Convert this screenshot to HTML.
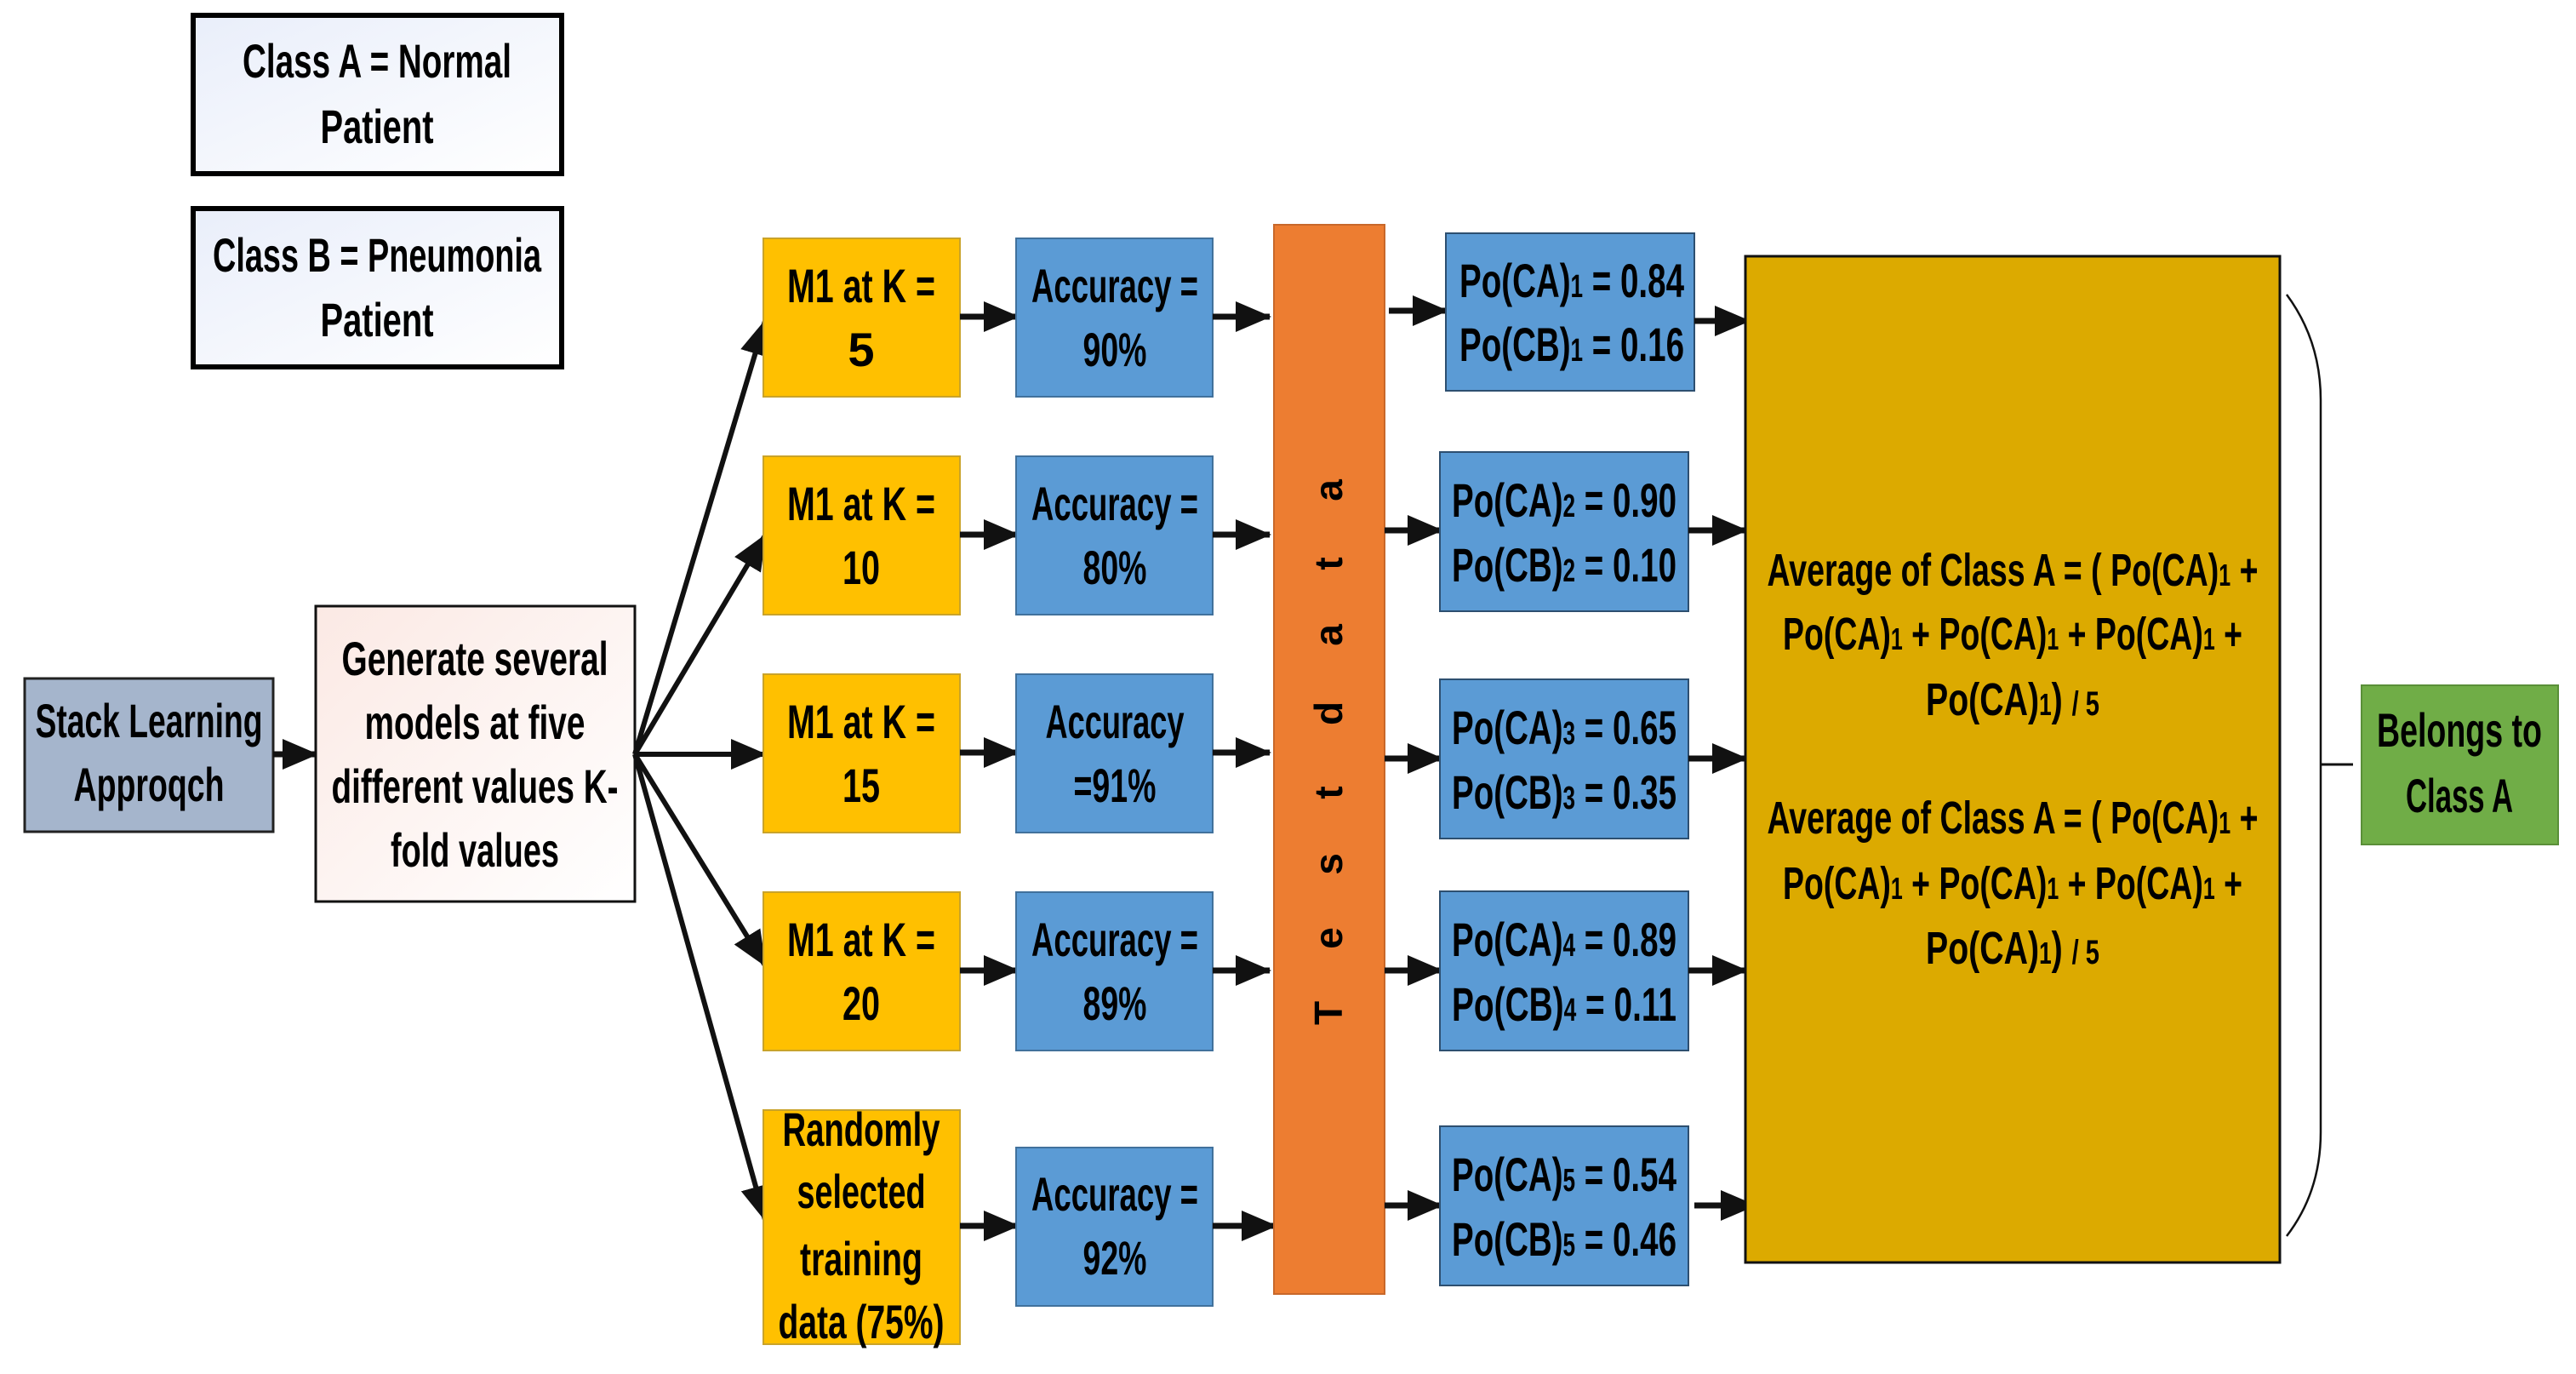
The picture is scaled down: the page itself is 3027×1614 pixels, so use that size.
<!DOCTYPE html>
<html><head><meta charset="utf-8"><style>
html,body{margin:0;padding:0;background:#fff}
svg{display:block}
text{font-family:"Liberation Sans",sans-serif;font-weight:bold;fill:#000}
</style></head><body>
<svg width="3027" height="1614" viewBox="0 0 3027 1614" xmlns="http://www.w3.org/2000/svg">
<defs>
<marker id="ah" markerUnits="userSpaceOnUse" markerWidth="44" markerHeight="36" refX="40" refY="18" orient="auto">
<path d="M0,0 L42,18 L0,36 Z" fill="#111"/>
</marker>
<linearGradient id="gcl" x1="0" y1="0" x2="1" y2="1"><stop offset="0" stop-color="#e9eefa"/><stop offset="1" stop-color="#ffffff"/></linearGradient>
<linearGradient id="ggen" x1="0" y1="0" x2="1" y2="1"><stop offset="0" stop-color="#fbe9e4"/><stop offset="1" stop-color="#ffffff"/></linearGradient>
</defs>

<!-- Legend boxes -->
<rect x="227" y="18" width="433" height="186" fill="url(#gcl)" stroke="#000" stroke-width="6"/>
<text x="443" y="91" font-size="56" text-anchor="middle" textLength="316" lengthAdjust="spacingAndGlyphs">Class A  = Normal</text>
<text x="443" y="168" font-size="56" text-anchor="middle" textLength="133" lengthAdjust="spacingAndGlyphs">Patient</text>
<rect x="227" y="245" width="433" height="186" fill="url(#gcl)" stroke="#000" stroke-width="6"/>
<text x="443" y="319" font-size="56" text-anchor="middle" textLength="386" lengthAdjust="spacingAndGlyphs">Class B  = Pneumonia</text>
<text x="443" y="395" font-size="56" text-anchor="middle" textLength="133" lengthAdjust="spacingAndGlyphs">Patient</text>

<!-- Stack -->
<rect x="29" y="797" width="292" height="180" fill="#a5b5cc" stroke="#222" stroke-width="3"/>
<text x="175" y="866" font-size="56" text-anchor="middle" textLength="267" lengthAdjust="spacingAndGlyphs">Stack Learning</text>
<text x="175" y="941" font-size="56" text-anchor="middle" textLength="177" lengthAdjust="spacingAndGlyphs">Approqch</text>
<line x1="321" y1="886" x2="372" y2="886" stroke="#111" stroke-width="7" marker-end="url(#ah)"/>

<!-- Generate -->
<rect x="371" y="712" width="375" height="347" fill="url(#ggen)" stroke="#111" stroke-width="3"/>
<text x="558" y="793" font-size="56" text-anchor="middle" textLength="313" lengthAdjust="spacingAndGlyphs">Generate several</text>
<text x="558" y="868" font-size="56" text-anchor="middle" textLength="259" lengthAdjust="spacingAndGlyphs">models at five</text>
<text x="558" y="943" font-size="56" text-anchor="middle" textLength="337" lengthAdjust="spacingAndGlyphs">different values K-</text>
<text x="558" y="1018" font-size="56" text-anchor="middle" textLength="198" lengthAdjust="spacingAndGlyphs">fold values</text>

<!-- Fan -->
<g stroke="#111" stroke-width="6" marker-end="url(#ah)">
<line x1="746" y1="886" x2="899" y2="377"/>
<line x1="746" y1="886" x2="899" y2="629"/>
<line x1="746" y1="886" x2="899" y2="886"/>
<line x1="746" y1="886" x2="899" y2="1134"/>
<line x1="746" y1="886" x2="899" y2="1433"/>
</g>

<!-- M1 boxes -->
<g fill="#ffc000" stroke="#c9a32a" stroke-width="2">
<rect x="897" y="280" width="231" height="186"/>
<rect x="897" y="536" width="231" height="186"/>
<rect x="897" y="792" width="231" height="186"/>
<rect x="897" y="1048" width="231" height="186"/>
<rect x="897" y="1304" width="231" height="275"/>
</g>
<g font-size="56" text-anchor="middle">
<text x="1012" y="355" textLength="174" lengthAdjust="spacingAndGlyphs">M1 at K =</text>
<text x="1012" y="430">5</text>
<text x="1012" y="611" textLength="174" lengthAdjust="spacingAndGlyphs">M1 at K =</text>
<text x="1012" y="686" textLength="44" lengthAdjust="spacingAndGlyphs">10</text>
<text x="1012" y="867" textLength="174" lengthAdjust="spacingAndGlyphs">M1 at K =</text>
<text x="1012" y="942" textLength="44" lengthAdjust="spacingAndGlyphs">15</text>
<text x="1012" y="1123" textLength="174" lengthAdjust="spacingAndGlyphs">M1 at K =</text>
<text x="1012" y="1198" textLength="44" lengthAdjust="spacingAndGlyphs">20</text>
<text x="1012" y="1346" textLength="185" lengthAdjust="spacingAndGlyphs">Randomly</text>
<text x="1012" y="1419" textLength="151" lengthAdjust="spacingAndGlyphs">selected</text>
<text x="1012" y="1498" textLength="144" lengthAdjust="spacingAndGlyphs">training</text>
<text x="1012" y="1572" textLength="195" lengthAdjust="spacingAndGlyphs">data (75%)</text>
</g>

<!-- M1 -> Acc arrows -->
<g stroke="#111" stroke-width="7" marker-end="url(#ah)">
<line x1="1128" y1="372" x2="1196" y2="372"/>
<line x1="1128" y1="628" x2="1196" y2="628"/>
<line x1="1128" y1="884" x2="1196" y2="884"/>
<line x1="1128" y1="1140" x2="1196" y2="1140"/>
<line x1="1128" y1="1440" x2="1196" y2="1440"/>
</g>

<!-- Accuracy boxes -->
<g fill="#5b9bd5" stroke="#41719c" stroke-width="2">
<rect x="1194" y="280" width="231" height="186"/>
<rect x="1194" y="536" width="231" height="186"/>
<rect x="1194" y="792" width="231" height="186"/>
<rect x="1194" y="1048" width="231" height="186"/>
<rect x="1194" y="1348" width="231" height="186"/>
</g>
<g font-size="56" text-anchor="middle">
<text x="1310" y="355" textLength="196" lengthAdjust="spacingAndGlyphs">Accuracy =</text>
<text x="1310" y="430" textLength="75" lengthAdjust="spacingAndGlyphs">90%</text>
<text x="1310" y="611" textLength="196" lengthAdjust="spacingAndGlyphs">Accuracy =</text>
<text x="1310" y="686" textLength="75" lengthAdjust="spacingAndGlyphs">80%</text>
<text x="1310" y="867" textLength="163" lengthAdjust="spacingAndGlyphs">Accuracy</text>
<text x="1310" y="942" textLength="97" lengthAdjust="spacingAndGlyphs">=91%</text>
<text x="1310" y="1123" textLength="196" lengthAdjust="spacingAndGlyphs">Accuracy =</text>
<text x="1310" y="1198" textLength="75" lengthAdjust="spacingAndGlyphs">89%</text>
<text x="1310" y="1422" textLength="196" lengthAdjust="spacingAndGlyphs">Accuracy =</text>
<text x="1310" y="1497" textLength="75" lengthAdjust="spacingAndGlyphs">92%</text>
</g>

<!-- Acc -> Test arrows -->
<g stroke="#111" stroke-width="7" marker-end="url(#ah)">
<line x1="1425" y1="372" x2="1492" y2="372"/>
<line x1="1425" y1="628" x2="1492" y2="628"/>
<line x1="1425" y1="884" x2="1492" y2="884"/>
<line x1="1425" y1="1140" x2="1492" y2="1140"/>
<line x1="1425" y1="1440" x2="1499" y2="1440"/>
</g>

<!-- Test data -->
<rect x="1497" y="264" width="130" height="1256" fill="#ed7d31" stroke="#c8682a" stroke-width="2"/>
<g font-size="46" text-anchor="middle">
<text transform="translate(1577,576) rotate(-90)">a</text>
<text transform="translate(1577,662) rotate(-90)">t</text>
<text transform="translate(1577,746) rotate(-90)">a</text>
<text transform="translate(1577,838) rotate(-90)">d</text>
<text transform="translate(1577,931) rotate(-90)">t</text>
<text transform="translate(1577,1015) rotate(-90)">s</text>
<text transform="translate(1577,1102) rotate(-90)">e</text>
<text transform="translate(1577,1190) rotate(-90)">T</text>
</g>

<!-- Test -> Po arrows -->
<g stroke="#111" stroke-width="7" marker-end="url(#ah)">
<line x1="1632" y1="365" x2="1700" y2="365"/>
<line x1="1627" y1="623" x2="1694" y2="623"/>
<line x1="1627" y1="891" x2="1694" y2="891"/>
<line x1="1627" y1="1140" x2="1694" y2="1140"/>
<line x1="1627" y1="1416" x2="1694" y2="1416"/>
</g>

<!-- Po boxes -->
<g fill="#5b9bd5" stroke="#2d4f70" stroke-width="2">
<rect x="1699" y="274" width="292" height="185"/>
<rect x="1692" y="531" width="292" height="187"/>
<rect x="1692" y="798" width="292" height="187"/>
<rect x="1692" y="1047" width="292" height="187"/>
<rect x="1692" y="1323" width="292" height="187"/>
</g>
<g font-size="56" text-anchor="middle">
<text x="1847" y="349" textLength="264" lengthAdjust="spacingAndGlyphs">Po(CA)<tspan font-size="38">1</tspan> = 0.84</text>
<text x="1847" y="424" textLength="264" lengthAdjust="spacingAndGlyphs">Po(CB)<tspan font-size="38">1</tspan> = 0.16</text>
<text x="1838" y="607" textLength="264" lengthAdjust="spacingAndGlyphs">Po(CA)<tspan font-size="38">2</tspan> = 0.90</text>
<text x="1838" y="683" textLength="264" lengthAdjust="spacingAndGlyphs">Po(CB)<tspan font-size="38">2</tspan> = 0.10</text>
<text x="1838" y="874" textLength="264" lengthAdjust="spacingAndGlyphs">Po(CA)<tspan font-size="38">3</tspan> = 0.65</text>
<text x="1838" y="950" textLength="264" lengthAdjust="spacingAndGlyphs">Po(CB)<tspan font-size="38">3</tspan> = 0.35</text>
<text x="1838" y="1123" textLength="264" lengthAdjust="spacingAndGlyphs">Po(CA)<tspan font-size="38">4</tspan> = 0.89</text>
<text x="1838" y="1199" textLength="264" lengthAdjust="spacingAndGlyphs">Po(CB)<tspan font-size="38">4</tspan> = 0.11</text>
<text x="1838" y="1399" textLength="264" lengthAdjust="spacingAndGlyphs">Po(CA)<tspan font-size="38">5</tspan> = 0.54</text>
<text x="1838" y="1475" textLength="264" lengthAdjust="spacingAndGlyphs">Po(CB)<tspan font-size="38">5</tspan> = 0.46</text>
</g>

<!-- Po -> big arrows -->
<g stroke="#111" stroke-width="7" marker-end="url(#ah)">
<line x1="1991" y1="377" x2="2055" y2="377"/>
<line x1="1984" y1="623" x2="2052" y2="623"/>
<line x1="1984" y1="891" x2="2052" y2="891"/>
<line x1="1984" y1="1140" x2="2052" y2="1140"/>
<line x1="1991" y1="1416" x2="2062" y2="1416"/>
</g>

<!-- Big box -->
<rect x="2051" y="301" width="628" height="1182" fill="#dcaa00" stroke="#111" stroke-width="3"/>
<g font-size="54" text-anchor="middle">
<text x="2365" y="688" textLength="577" lengthAdjust="spacingAndGlyphs">Average of Class A = ( Po(CA)<tspan font-size="36">1</tspan> +</text>
<text x="2365" y="763" textLength="540" lengthAdjust="spacingAndGlyphs">Po(CA)<tspan font-size="36">1</tspan> + Po(CA)<tspan font-size="36">1</tspan> + Po(CA)<tspan font-size="36">1</tspan> +</text>
<text x="2365" y="840" textLength="204" lengthAdjust="spacingAndGlyphs">Po(CA)<tspan font-size="36">1</tspan>) <tspan font-size="40">/ 5</tspan></text>
<text x="2365" y="979" textLength="577" lengthAdjust="spacingAndGlyphs">Average of Class A = ( Po(CA)<tspan font-size="36">1</tspan> +</text>
<text x="2365" y="1056" textLength="540" lengthAdjust="spacingAndGlyphs">Po(CA)<tspan font-size="36">1</tspan> + Po(CA)<tspan font-size="36">1</tspan> + Po(CA)<tspan font-size="36">1</tspan> +</text>
<text x="2365" y="1132" textLength="204" lengthAdjust="spacingAndGlyphs">Po(CA)<tspan font-size="36">1</tspan>) <tspan font-size="40">/ 5</tspan></text>
</g>

<!-- Brace -->
<path d="M2687,346 Q2727,400 2727,470 L2727,1330 Q2727,1400 2687,1452" fill="none" stroke="#111" stroke-width="2.5"/>
<line x1="2727" y1="898" x2="2765" y2="898" stroke="#111" stroke-width="3"/>

<!-- Belongs -->
<rect x="2775" y="805" width="231" height="187" fill="#70ad47" stroke="#5a8f38" stroke-width="2"/>
<text x="2890" y="877" font-size="56" text-anchor="middle" textLength="194" lengthAdjust="spacingAndGlyphs">Belongs to</text>
<text x="2890" y="954" font-size="56" text-anchor="middle" textLength="126" lengthAdjust="spacingAndGlyphs">Class A</text>
</svg>
</body></html>
